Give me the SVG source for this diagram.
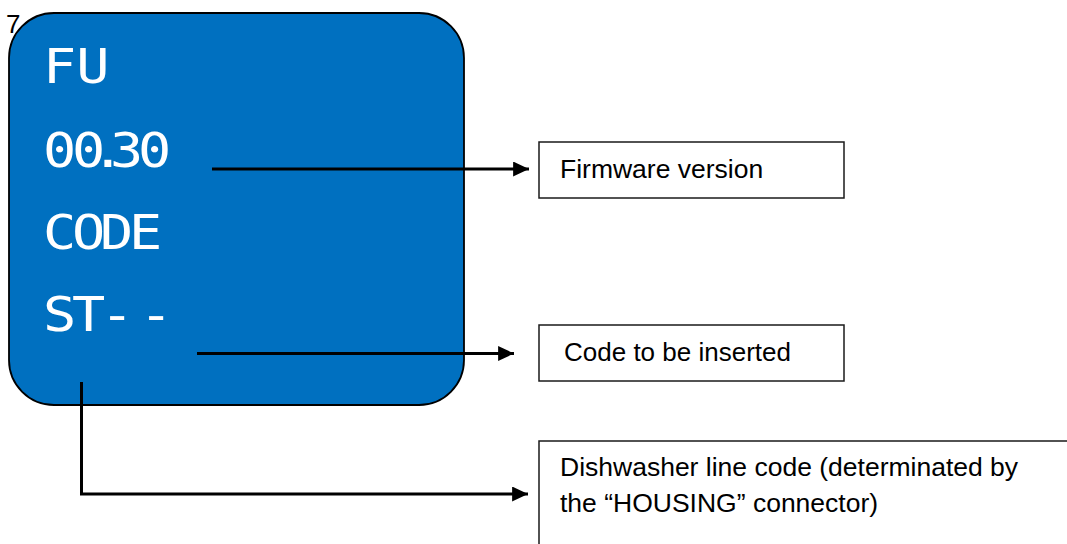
<svg xmlns="http://www.w3.org/2000/svg" width="1067" height="544" viewBox="0 0 1067 544">
  <style>
    .lbl { font-family: "Liberation Sans", Arial, sans-serif; font-size: 26.5px; fill: #000; }
    .lcd { font-family: "DejaVu Sans Mono", monospace; font-size: 48px; fill: #fff; }
    .box { fill: #fff; stroke: #1a1a1a; stroke-width: 1.5; }
    .conn { fill: none; stroke: #000; stroke-width: 3; }
  </style>
  <defs>
    <marker id="arrow" markerWidth="6" markerHeight="5" refX="5.3" refY="2.5" orient="auto" markerUnits="strokeWidth">
      <path d="M0,0 L5.3,2.5 L0,5 Z" fill="#000"/>
    </marker>
  </defs>
  <rect width="1067" height="544" fill="#fff"/>
  <text x="6" y="33" style="font-family:'Liberation Sans',Arial,sans-serif;font-size:26px;fill:#000">7.</text>

  <g id="lcd-display">
    <rect x="9" y="13" width="455" height="392" rx="45" ry="45" fill="#0070C0" stroke="#000" stroke-width="1.8"/>
    <g transform="translate(43,0) scale(1.15,1)">
      <text class="lcd" x="0" y="83">FU</text>
      <text class="lcd" x="0 25.2 42 58.3 82.6" y="167">00.30</text>
      <text class="lcd" x="0 25.2 49.6 74.8" y="249">CODE</text>
      <text class="lcd" x="0 25.2 50 70 84" y="331">ST- -</text>
    </g>
  </g>

  <g id="node-firmware">
    <rect class="box" x="539" y="142" width="305" height="56"/>
    <text class="lbl" x="560" y="177.5">Firmware version</text>
  </g>

  <g id="node-code">
    <rect class="box" x="539" y="325" width="305" height="56"/>
    <text class="lbl" x="564" y="361" style="font-size:26px">Code to be inserted</text>
  </g>

  <g id="node-line-code">
    <rect class="box" x="539" y="441" width="600" height="200"/>
    <text class="lbl" x="560" y="476">Dishwasher line code (determinated by</text>
    <text class="lbl" x="560" y="512">the “HOUSING” connector)</text>
  </g>

  <g id="connectors">
    <line class="conn" x1="212" y1="169" x2="529" y2="169" marker-end="url(#arrow)"/>
    <line class="conn" x1="197" y1="353.5" x2="514" y2="353.5" marker-end="url(#arrow)"/>
    <polyline class="conn" points="81.5,382 81.5,494 528,494" marker-end="url(#arrow)"/>
  </g>
</svg>
